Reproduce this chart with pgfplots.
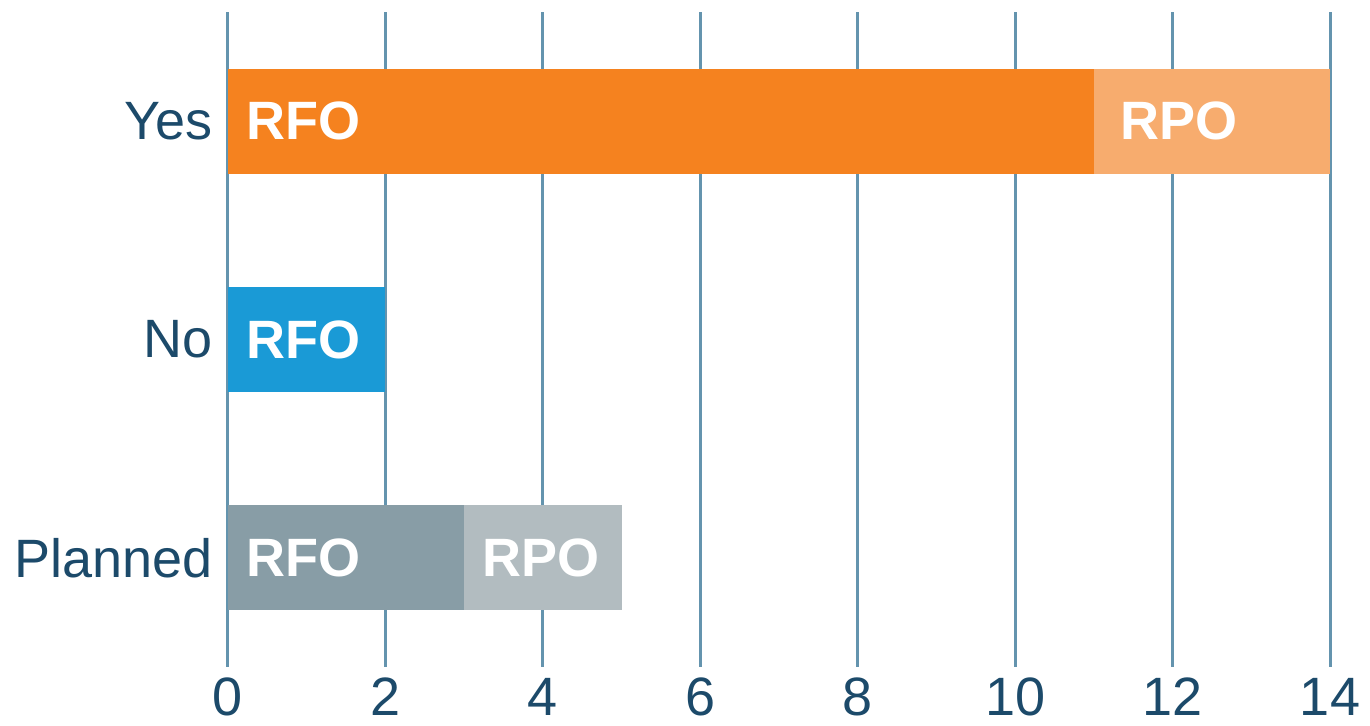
\documentclass[border=0pt]{standalone}
\usepackage{pgfplots}
\pgfplotsset{compat=1.18}
\usepackage{fontspec}
\setmainfont{Liberation Sans}
\definecolor{cOrange}{RGB}{245,130,31}
\definecolor{cOrangeL}{RGB}{247,172,110}
\definecolor{cBlue}{RGB}{26,154,214}
\definecolor{cGrey}{RGB}{136,157,166}
\definecolor{cGreyL}{RGB}{178,188,192}
\definecolor{cGrid}{RGB}{100,148,174}
\definecolor{cText}{RGB}{28,74,106}
\tikzset{barlab/.style={font=\fontsize{27}{30}\selectfont\bfseries, text=white, anchor=west, inner sep=0pt}}
\begin{document}
\begin{tikzpicture}
\begin{axis}[
  scale only axis,
  width=551pt, height=327.5pt,
  xbar stacked,
  bar width=52.5pt,
  xmin=0, xmax=14,
  ymin=-0.5, ymax=2.5,
  xtick={0,2,...,14},
  ytick={0,1,2},
  yticklabels={Planned,No,Yes},
  major tick length=0pt,
  axis line style={draw=none},
  xmajorgrids,
  grid style={cGrid, line width=1.5pt},
  tick label style={font=\fontsize{27}{30}\selectfont, text=cText},
  /pgf/number format/assume math mode=true,
  xticklabel style={yshift=-2pt},
  yticklabel style={xshift=-4pt},
]
% Yes: RFO, RPO
\addplot[fill=cOrange, draw=none] coordinates {(11,2) (0,1) (0,0)};
\addplot[fill=cOrangeL, draw=none] coordinates {(3,2) (0,1) (0,0)};
% No: RFO
\addplot[fill=cBlue, draw=none] coordinates {(0,2) (2,1) (0,0)};
% Planned: RFO, RPO
\addplot[fill=cGrey, draw=none] coordinates {(0,2) (0,1) (3,0)};
\addplot[fill=cGreyL, draw=none] coordinates {(0,2) (0,1) (2,0)};
\coordinate (l1) at (axis cs:0,2);
\coordinate (l2) at (axis cs:11,2);
\coordinate (l3) at (axis cs:0,1);
\coordinate (l4) at (axis cs:0,0);
\coordinate (l5) at (axis cs:3,0);
\end{axis}
\node[barlab, xshift=9pt] at (l1) {RFO};
\node[barlab, xshift=13pt] at (l2) {RPO};
\node[barlab, xshift=9pt] at (l3) {RFO};
\node[barlab, xshift=9pt] at (l4) {RFO};
\node[barlab, xshift=9pt] at (l5) {RPO};
\pgfresetboundingbox
\path[use as bounding box] (-114pt,-29.5pt) rectangle (571pt,333.5pt);
\end{tikzpicture}
\end{document}
